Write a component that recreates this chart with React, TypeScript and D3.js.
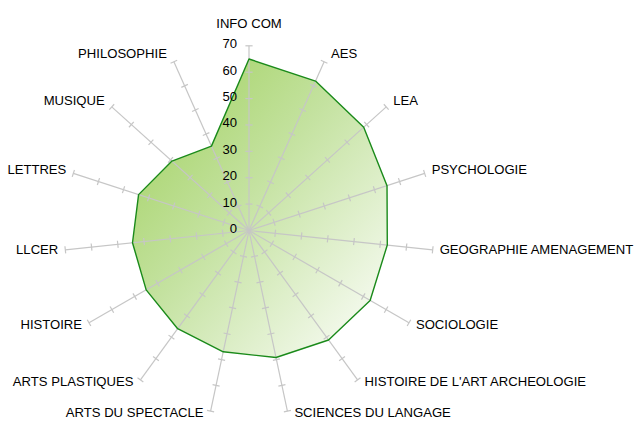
import React from "react";
import * as d3 from "d3";

const categories = [
  "INFO COM",
  "AES",
  "LEA",
  "PSYCHOLOGIE",
  "GEOGRAPHIE AMENAGEMENT",
  "SOCIOLOGIE",
  "HISTOIRE DE L'ART ARCHEOLOGIE",
  "SCIENCES DU LANGAGE",
  "ARTS DU SPECTACLE",
  "ARTS PLASTIQUES",
  "HISTOIRE",
  "LLCER",
  "LETTRES",
  "MUSIQUE",
  "PHILOSOPHIE",
];
const values = [65, 62, 58.5, 55, 52.7, 53, 51.3, 49.2, 47, 46, 45, 44.4, 44, 39.3, 35];
const tickValues = [0, 10, 20, 30, 40, 50, 60, 70];

const W = 641;
const H = 421;
const cx = 249;
const cy = 230.5;
const R = 184.7;
const FONT = "'Liberation Sans', Arial, sans-serif";
const FS = 13.1;

export default function App() {
  const r = d3.scaleLinear().domain([0, 70]).range([0, R]);
  const angle = d3
    .scaleLinear()
    .domain([0, categories.length])
    .range([0, 2 * Math.PI]);
  const pt = (i: number, v: number): [number, number] => {
    const a = angle(i);
    return [cx + Math.sin(a) * r(v), cy - Math.cos(a) * r(v)];
  };
  const line = d3
    .line<number>()
    .x((v, i) => pt(i, v)[0])
    .y((v, i) => pt(i, v)[1])
    .curve(d3.curveLinearClosed);
  const path = line(values) || "";

  return (
    <div style={{ position: "fixed", left: 0, top: 0 }}>
      <svg width={W} height={H} style={{ display: "block", background: "#fff" }}>
        <defs>
          <linearGradient id="fillg" x1="0" y1="0" x2="1" y2="1">
            <stop offset="0%" stopColor="#9dcf58" />
            <stop offset="45%" stopColor="#c4e2a0" />
            <stop offset="100%" stopColor="#ffffff" />
          </linearGradient>
        </defs>
        <path d={path} fill="url(#fillg)" stroke="none" />
        {categories.map((c, i) => {
          const a = angle(i);
          const [x2, y2] = pt(i, 70);
          const ux = Math.sin(a);
          const uy = -Math.cos(a);
          return (
            <g key={c}>
              <line x1={cx} y1={cy} x2={x2} y2={y2} stroke="#c6c6c6" strokeWidth={1.2} />
              {tickValues.slice(1).map((t) => {
                const [px, py] = pt(i, t);
                const h = 3.6;
                return (
                  <line
                    key={t}
                    x1={px - uy * h}
                    y1={py + ux * h}
                    x2={px + uy * h}
                    y2={py - ux * h}
                    stroke="#c6c6c6"
                    strokeWidth={1.2}
                  />
                );
              })}
            </g>
          );
        })}
        <path d={path} fill="none" stroke="#1a8a1a" strokeWidth={1.4} strokeLinejoin="round" />
        {tickValues.map((t) => (
          <text
            key={t}
            x={cx - 12}
            y={cy - r(t) - 2}
            textAnchor="end"
            dominantBaseline="central"
            fontFamily={FONT}
            fontSize={FS}
            fill="#000"
          >
            {t}
          </text>
        ))}
        {categories.map((c, i) => {
          const a = angle(i);
          const [ex, ey] = pt(i, 70);
          const s = Math.sin(a);
          const co = Math.cos(a);
          let x = ex;
          let y = ey;
          let anchor: "start" | "end" | "middle" = "middle";
          if (i === 0) {
            y = ey - 22;
          } else {
            anchor = s > 0 ? "start" : "end";
            x = ex + (s > 0 ? 7 : -7);
            y = co > -0.3 ? ey - 7.5 * co - 1.5 : ey + 1.5;
          }
          return (
            <text
              key={c}
              x={x}
              y={y}
              textAnchor={anchor}
              dominantBaseline="central"
              fontFamily={FONT}
              fontSize={FS}
              fill="#000"
            >
              {c}
            </text>
          );
        })}
      </svg>
    </div>
  );
}
